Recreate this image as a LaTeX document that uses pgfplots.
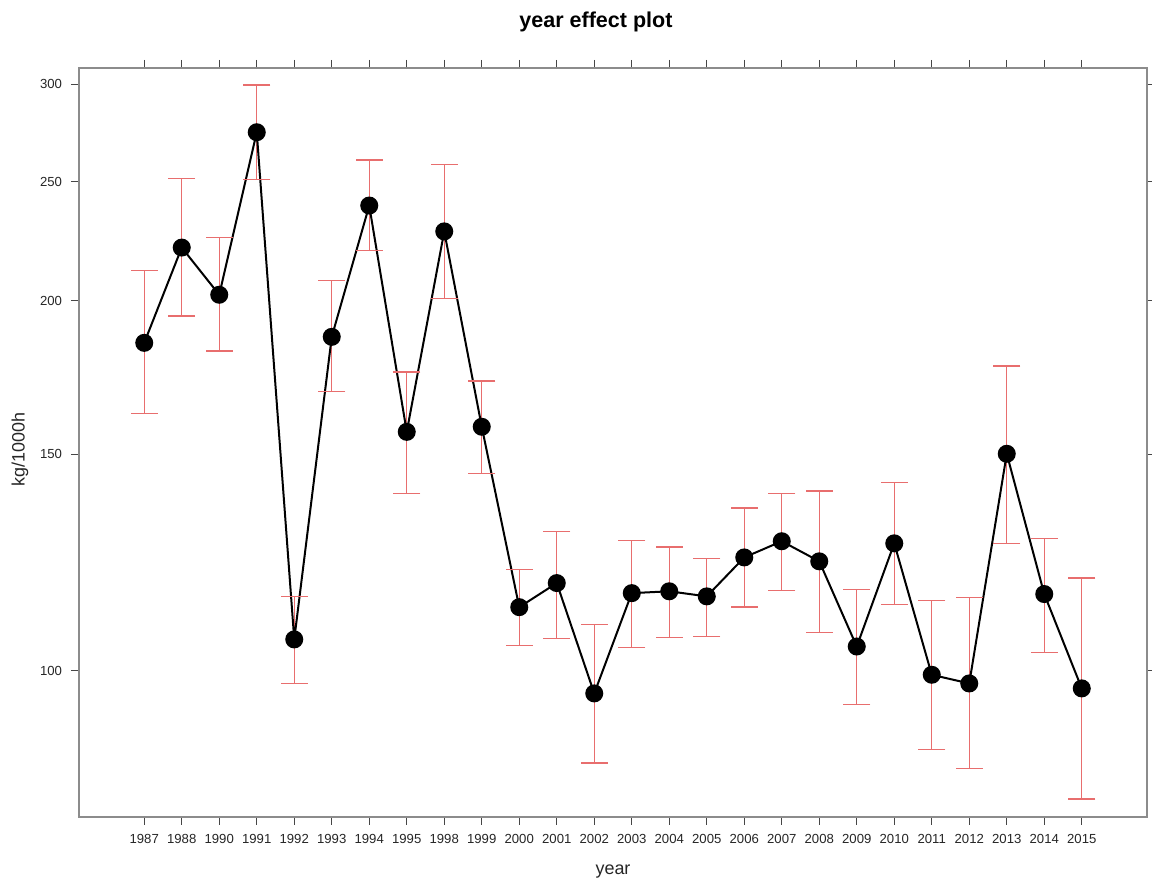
\documentclass[border=0pt]{standalone}
\usepackage{fontspec}
\setmainfont{Liberation Sans}
\usepackage{pgfplots}
\pgfplotsset{compat=1.18}
\usetikzlibrary{plotmarks}
\definecolor{errred}{RGB}{232,110,110}
\definecolor{framegray}{RGB}{140,140,140}
\definecolor{tickgray}{RGB}{70,70,70}
\begin{document}
\begin{tikzpicture}
\begin{axis}[
  scale only axis,
  width=534bp, height=374.5bp,
  xmin=-1.74, xmax=26.74,
  ymode=log, ymin=76, ymax=309.3,
  xtick={0,...,25},
  xticklabels={1987,1988,1990,1991,1992,1993,1994,1995,1998,1999,2000,2001,2002,2003,2004,2005,2006,2007,2008,2009,2010,2011,2012,2013,2014,2015},
  ytick={100,150,200,250,300},
  yticklabels={100,150,200,250,300},
  minor tick num=0,
  tick align=outside,
  major tick length=4bp,
  tick style={tickgray, line width=0.6bp},
  axis line style={framegray, line width=1bp},
  ticklabel style={font=\fontsize{6.6}{8}\selectfont, text=black!85},
  xticklabel style={yshift=-1bp},
  yticklabel style={xshift=-1bp},
  xlabel={year},
  ylabel={kg/1000h},
  every axis x label/.style={at={([yshift=-27.5bp]rel axis cs:0.5,0)}, anchor=center, font=\fontsize{9}{11}\selectfont, text=black!85},
  every axis y label/.style={at={([xshift=-29.5bp,yshift=-3.5bp]rel axis cs:0,0.5)}, anchor=center, rotate=90, font=\fontsize{9}{11}\selectfont, text=black!85},
  title={year effect plot},
  every axis title shift=0pt,
  every axis title/.style={at={([xshift=-8.5bp,yshift=23bp]rel axis cs:0.5,1)}, anchor=center, font=\fontsize{10.8}{13}\selectfont\bfseries},
  unbounded coords=jump,
  clip=false,
]
% error bars (lower, upper)
\addplot[errred, line width=0.7bp, mark=-, mark size=6.75bp, mark options={line width=0.7bp}] coordinates {
 (0,161.8) (0,211.6) (0,nan)
 (1,194.4) (1,251.5) (1,nan)
 (2,182.0) (2,225.1) (2,nan)
 (3,251.0) (3,299.5) (3,nan)
 (4,97.6) (4,114.9) (4,nan)
 (5,168.6) (5,207.6) (5,nan)
 (6,219.6) (6,260.2) (6,nan)
 (7,139.4) (7,175.0) (7,nan)
 (8,200.7) (8,258.2) (8,nan)
 (9,144.7) (9,172.1) (9,nan)
 (10,104.8) (10,120.9) (10,nan)
 (11,106.2) (11,129.8) (11,nan)
 (12,84.1) (12,109.0) (12,nan)
 (13,104.4) (13,127.6) (13,nan)
 (14,106.4) (14,126.0) (14,nan)
 (15,106.6) (15,123.4) (15,nan)
 (16,112.6) (16,135.6) (16,nan)
 (17,116.2) (17,139.4) (17,nan)
 (18,107.4) (18,140.0) (18,nan)
 (19,93.8) (19,116.4) (19,nan)
 (20,113.2) (20,142.3) (20,nan)
 (21,86.2) (21,114.0) (21,nan)
 (22,83.2) (22,114.7) (22,nan)
 (23,126.9) (23,177.0) (23,nan)
 (24,103.4) (24,128.1) (24,nan)
 (25,78.6) (25,118.9)
};
% estimates
\addplot[black, line width=1bp, mark=*, mark size=4bp] coordinates {
 (0,184.8) (1,220.9) (2,202.2) (3,274.2) (4,106.0) (5,186.9) (6,239.0) (7,156.4)
 (8,227.7) (9,157.9) (10,112.6) (11,117.8) (12,95.8) (13,115.6) (14,116.0) (15,114.9)
 (16,123.6) (17,127.4) (18,122.7) (19,104.6) (20,126.9) (21,99.2) (22,97.6) (23,150.1)
 (24,115.4) (25,96.7)
};
\coordinate (bl) at (rel axis cs:0,0);
\coordinate (tr) at (rel axis cs:1,1);
\end{axis}
\pgfresetboundingbox
\path ([xshift=-39.5bp,yshift=-33bp]bl) rectangle ([xshift=2.5bp,yshift=34bp]tr);
\end{tikzpicture}
\end{document}
